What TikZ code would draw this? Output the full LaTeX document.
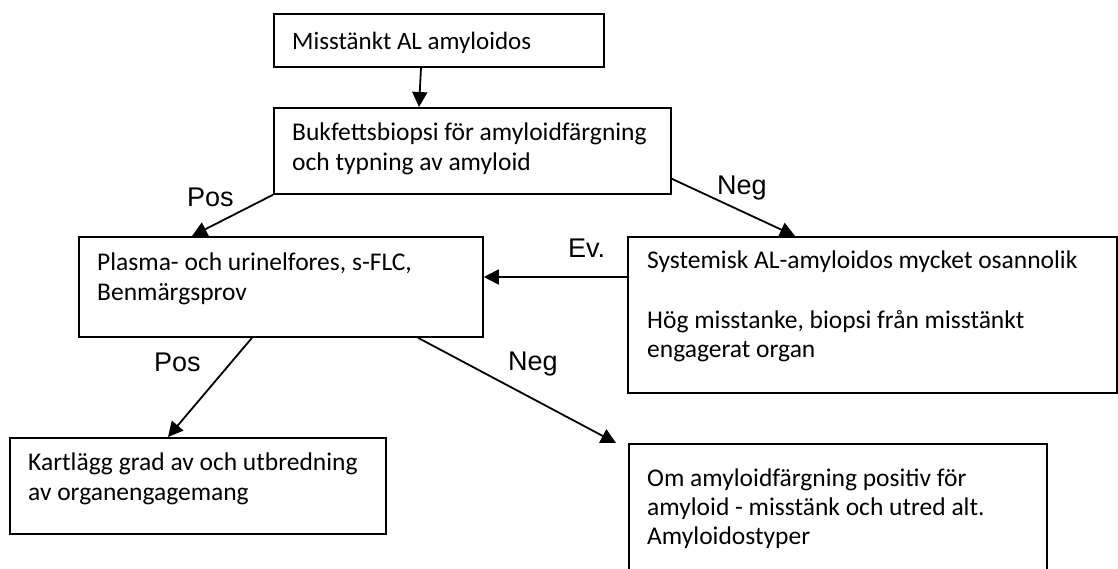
\documentclass[tikz,border=0pt]{standalone}
\usepackage{fontspec}
\usetikzlibrary{arrows.meta}
\newfontfamily\boxfont{Carlito}
\newfontfamily\labfont{Liberation Sans}
\tikzset{
  box/.style={draw, line width=1.8pt, inner sep=0pt, anchor=north west},
  txt/.style={anchor=base west, inner sep=0pt, font=\boxfont\fontsize{25.5pt}{30pt}\selectfont},
  bigtxt/.style={anchor=base west, inner sep=0pt, font=\boxfont\fontsize{25pt}{30pt}\selectfont},
  lab/.style={anchor=base west, inner sep=0pt, font=\labfont\fontsize{27pt}{32pt}\selectfont},
  conn/.style={line width=1.8pt, -{Triangle[length=15pt,width=15pt]}}
}
\begin{document}
\begin{tikzpicture}[x=1pt,y=-1pt]
\useasboundingbox (0,0) rectangle (1118,569);
\clip (0,0) rectangle (1118,569);
% boxes
\node[box, minimum width=330pt, minimum height=53pt] (b1) at (273,13) {};
\node[box, minimum width=397pt, minimum height=86pt] (b2) at (273,107) {};
\node[box, minimum width=404pt, minimum height=100pt] (pl) at (78,236) {};
\node[box, minimum width=489pt, minimum height=156pt] (sy) at (627,236) {};
\node[box, minimum width=376pt, minimum height=96pt] (ka) at (9,437) {};
\node[box, minimum width=418pt, minimum height=160pt] (om) at (628,443) {};
% texts
\node[bigtxt] (t1) at (292,50) {Misstänkt AL amyloidos};
\node[txt] (t2a) at (292,141) {Bukfettsbiopsi för amyloidfärgning};
\node[txt] (t2b) at (292,171) {och typning av amyloid};
\node[txt] (t3a) at (97,270) {Plasma- och urinelfores, s-FLC,};
\node[txt] (t3b) at (97,300) {Benmärgsprov};
\node[txt] (t4a) at (647,269) {Systemisk AL-amyloidos mycket osannolik};
\node[txt] (t4b) at (647,328) {Hög misstanke, biopsi från misstänkt};
\node[txt] (t4c) at (647,357) {engagerat organ};
\node[txt] (t5a) at (28,470) {Kartlägg grad av och utbredning};
\node[txt] (t5b) at (28,500) {av organengagemang};
\node[txt] (t6a) at (647,486) {Om amyloidfärgning positiv för};
\node[txt] (t6b) at (647,515) {amyloid - misstänk och utred alt.};
\node[txt] (t6c) at (647,544) {Amyloidostyper};
% labels
\node[lab] (l1) at (187,207) {Pos};
\node[lab] (l2) at (717,195) {Neg};
\node[lab] (l3) at (568,258) {Ev.};
\node[lab] (l4) at (154,371) {Pos};
\node[lab] (l5) at (508,370) {Neg};
% connectors
\draw[conn] ([xshift=148pt]b1.south west) -- ([xshift=146pt]b2.north west);
\draw[conn] (b2.south west) -- ([xshift=114pt]pl.north west);
\draw[conn] ([yshift=16pt]b2.south east) -- ([xshift=168pt]sy.north west);
\draw[conn] ([yshift=-41pt]sy.north west) -- ([yshift=-41pt]pl.north east);
\draw[conn] ([xshift=174pt]pl.south west) -- ([xshift=159pt]ka.north west);
\draw[conn] ([xshift=340pt]pl.south west) -- ([xshift=-12pt]om.north west);
\end{tikzpicture}
\end{document}
